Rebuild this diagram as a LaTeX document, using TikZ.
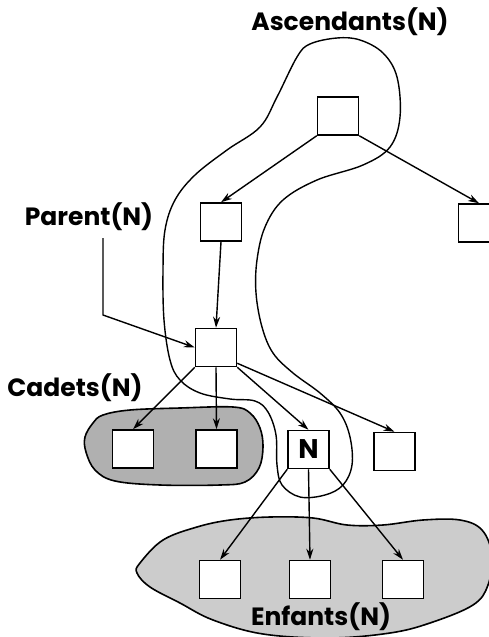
\documentclass[tikz,border=0pt]{standalone}
\usepackage{fontspec}
\setmainfont{Poppins}
\usetikzlibrary{arrows.meta}
\begin{document}
\begin{tikzpicture}[x=1pt,y=-1pt,
  box/.style={draw, line width=1.5pt, fill=white, inner sep=0pt, minimum width=41pt, minimum height=38pt},
  lbl/.style={font=\fontsize{25}{29}\selectfont\bfseries, inner sep=0pt},
  arr/.style={-{Stealth[length=11pt,width=7pt,inset=3.5pt]}, line width=1.4pt},
  blob/.style={line width=1.6pt, draw=black},
  curve/.style={line width=1.4pt, draw=black}]
\useasboundingbox (0,0) rectangle (489,637);
\clip (0,0) rectangle (489,637);
% shaded groups
\draw[blob, fill=gray!62] plot[smooth cycle, tension=0.6] coordinates {(93,423) (103,415) (130,410) (180,408) (233,407) (250,413) (260,428) (263,447) (259,468) (245,482) (220,485) (160,485) (115,481) (95,470) (86,452) (85,437)};
\draw[blob, fill=gray!40] plot[smooth cycle, tension=0.6] coordinates {(140,563) (163,540) (197,527) (230,520) (270,517) (313,518) (347,525) (383,525) (423,520) (460,520) (482,530) (492,555) (488,585) (473,605) (430,623) (390,633) (330,638) (263,634) (213,620) (180,603) (150,587) (137,573)};
% ascendants contour
\draw[curve] plot[smooth cycle, tension=0.6] coordinates {(337,38) (310,44) (297,57) (277,97) (260,127) (227,150) (195,175) (175,200) (165,230) (163,270) (164,320) (170,360) (180,380) (200,393) (230,399) (255,401) (268,412) (276,435) (277,465) (282,485) (300,497) (325,495) (343,485) (352,465) (350,437) (340,413) (320,393) (293,373) (273,353) (262,327) (256,293) (257,260) (265,227) (283,200) (317,180) (363,165) (390,147) (400,117) (397,77) (383,53) (360,40)};
% boxes
\node[box] (top) at (338,116) {};
\node[box] (l2) at (221,222) {};
\node[box] (r2) at (479,223) {};
\node[box] (p) at (216,347.5) {};
\node[box] (c1) at (133,449) {};
\node[box] (c2) at (216.5,449) {};
\node[box, font=\fontsize{27}{30}\selectfont\bfseries] (n) at (308.5,449.5) {N};
\node[box] (r3) at (394.5,451.5) {};
\node[box] (e1) at (220,579.5) {};
\node[box] (e2) at (310,579.5) {};
\node[box] (e3) at (403,579.5) {};
% labels
\node[lbl] (asc) at (350,22) {Ascendants(N)};
\node[lbl] (plab) at (89,217) {Parent(N)};
\node[lbl] (cad) at (75,388) {Cadets(N)};
\node[lbl] (enf) at (321,617) {Enfants(N)};
% edges
\draw[arr] (top.south west) -- (l2.north);
\draw[arr] (top.south east) -- (r2.north);
\draw[arr] (l2.south) -- (p.north);
\draw[arr] (p.south west) -- (c1.north);
\draw[arr] (p.south) -- (c2.north);
\draw[arr] (p.south east) -- (n.north);
\draw[arr] ([yshift=4pt]p.south east) -- (r3.north);
\draw[arr] (n.south west) -- (e1.north);
\draw[arr] (n.south) -- (e2.north);
\draw[arr] (n.south east) -- (e3.north);
\coordinate (pl1) at (103,238);
\coordinate (pl2) at (103,315);
\draw[arr] (pl1) -- (pl2) -- (p.west);
\end{tikzpicture}
\end{document}
